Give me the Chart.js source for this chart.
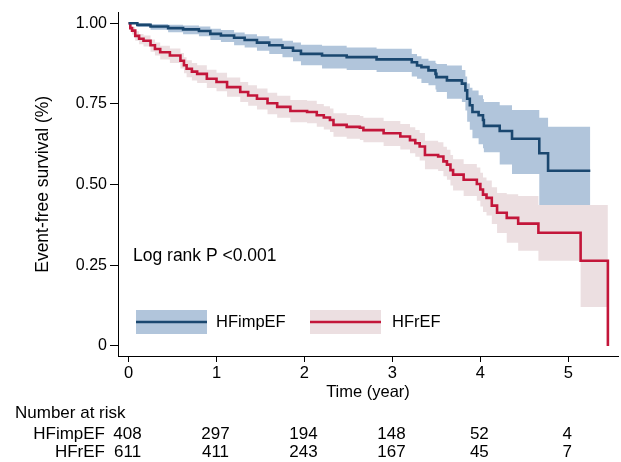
<!DOCTYPE html>
<html>
<head>
<meta charset="utf-8">
<script src="https://cdn.jsdelivr.net/npm/chart.js@4.4.1/dist/chart.umd.min.js"></script>
<style>
  html, body { margin: 0; padding: 0; background: #fff; }
  #wrap { width: 621px; height: 462px; }
</style>
</head>
<body>
<div id="wrap"><canvas id="km" width="621" height="462"></canvas></div>
<script>
// HFimpEF: time (years), survival, lower / upper CI
const impTime = [0, 0.1, 0.25, 0.45, 0.62, 0.8, 0.93, 1.05, 1.2, 1.32, 1.46, 1.6, 1.75, 1.87, 1.96, 2.2, 2.48, 2.82, 3.22, 3.28, 3.33, 3.41, 3.49, 3.5, 3.62, 3.79, 3.83, 3.85, 3.88, 3.91, 3.98, 4.03, 4.04, 4.22, 4.36, 4.67, 4.77, 5.25];
const impSurv = [1, 0.995, 0.99, 0.985, 0.981, 0.976, 0.967, 0.962, 0.955, 0.948, 0.94, 0.932, 0.924, 0.915, 0.905, 0.9, 0.895, 0.888, 0.879, 0.869, 0.864, 0.854, 0.843, 0.833, 0.823, 0.813, 0.792, 0.766, 0.746, 0.725, 0.715, 0.7, 0.682, 0.666, 0.642, 0.597, 0.543, 0.543];
const impLo = [1, 0.988, 0.98, 0.972, 0.966, 0.96, 0.948, 0.942, 0.932, 0.925, 0.915, 0.905, 0.895, 0.882, 0.87, 0.86, 0.855, 0.849, 0.835, 0.828, 0.815, 0.808, 0.795, 0.787, 0.766, 0.756, 0.73, 0.695, 0.67, 0.644, 0.625, 0.613, 0.6, 0.562, 0.533, 0.437, 0.437, 0.437];
const impHi = [1, 1, 0.998, 0.995, 0.993, 0.99, 0.983, 0.979, 0.971, 0.966, 0.96, 0.953, 0.946, 0.94, 0.933, 0.93, 0.925, 0.921, 0.905, 0.898, 0.89, 0.884, 0.877, 0.874, 0.869, 0.855, 0.835, 0.813, 0.8, 0.792, 0.777, 0.765, 0.756, 0.746, 0.731, 0.707, 0.679, 0.679];

// HFrEF
const refTime = [0, 0.02, 0.04, 0.076, 0.12, 0.17, 0.25, 0.3, 0.36, 0.47, 0.59, 0.63, 0.66, 0.72, 0.78, 0.89, 1.0, 1.12, 1.27, 1.36, 1.46, 1.58, 1.69, 1.84, 2.03, 2.14, 2.22, 2.29, 2.33, 2.48, 2.63, 2.67, 2.9, 3.09, 3.2, 3.26, 3.31, 3.37, 3.52, 3.58, 3.62, 3.66, 3.69, 3.81, 3.96, 4.0, 4.03, 4.07, 4.13, 4.19, 4.3, 4.43, 4.66, 5.14, 5.45];
const refSurv = [1, 0.985, 0.977, 0.961, 0.952, 0.946, 0.932, 0.92, 0.91, 0.9, 0.884, 0.87, 0.859, 0.85, 0.843, 0.828, 0.818, 0.802, 0.787, 0.776, 0.766, 0.752, 0.741, 0.728, 0.725, 0.715, 0.708, 0.7, 0.685, 0.679, 0.676, 0.669, 0.659, 0.649, 0.638, 0.628, 0.618, 0.592, 0.587, 0.572, 0.562, 0.545, 0.531, 0.515, 0.502, 0.485, 0.469, 0.459, 0.435, 0.413, 0.397, 0.379, 0.351, 0.264, 0];
const refLo = [1, 0.978, 0.965, 0.946, 0.935, 0.928, 0.912, 0.9, 0.888, 0.877, 0.86, 0.845, 0.833, 0.823, 0.815, 0.799, 0.789, 0.772, 0.756, 0.744, 0.733, 0.718, 0.707, 0.693, 0.69, 0.679, 0.671, 0.663, 0.648, 0.642, 0.638, 0.631, 0.62, 0.609, 0.597, 0.586, 0.575, 0.548, 0.542, 0.526, 0.515, 0.497, 0.482, 0.465, 0.45, 0.432, 0.415, 0.404, 0.378, 0.35, 0.32, 0.295, 0.264, 0.121, 0.121];
const refHi = [1, 0.99, 0.988, 0.975, 0.967, 0.962, 0.95, 0.94, 0.93, 0.922, 0.908, 0.895, 0.885, 0.877, 0.87, 0.856, 0.847, 0.832, 0.818, 0.808, 0.798, 0.785, 0.775, 0.762, 0.76, 0.75, 0.743, 0.736, 0.721, 0.716, 0.713, 0.707, 0.697, 0.688, 0.678, 0.669, 0.66, 0.636, 0.631, 0.617, 0.608, 0.592, 0.579, 0.564, 0.553, 0.537, 0.522, 0.513, 0.492, 0.474, 0.47, 0.465, 0.437, 0.437, 0.437];

const groups = ["HFimpEF", "HFrEF"];
const xTicks = [0, 1, 2, 3, 4, 5];
const yTicks = [0, 0.25, 0.5, 0.75, 1];
const riskImp = [408, 297, 194, 148, 52, 4];
const riskRef = [611, 411, 243, 167, 45, 7];

const BLUE = "#1a476f", BLUE_BAND = "#b1c5db";
const RED = "#c3163a", RED_BAND = "#ecdfe1";
const FONT = "'Liberation Sans', Arial, sans-serif";

function pts(t, v) {
  return t.map((x, i) => ({ x: x, y: v[i] }));
}

function lineSet(label, t, v, color) {
  return { label, data: pts(t, v), borderColor: color, borderWidth: 2.6, stepped: "before", pointRadius: 0, fill: false };
}

function bandSet(label, t, v, color, fill) {
  return { label, data: pts(t, v), borderColor: "rgba(0,0,0,0)", borderWidth: 1, backgroundColor: color, stepped: "before", pointRadius: 0, fill: fill };
}

// legend, p-value and risk table drawn on top of the chart
const extras = {
  id: "extras",
  afterDraw(chart) {
    const c = chart.ctx;
    const xs = chart.scales.x;
    c.save();
    c.fillStyle = "#000";
    c.textBaseline = "alphabetic";

    c.font = "17.5px " + FONT;
    c.textAlign = "left";
    c.fillText("Log rank P <0.001", 133, 261);

    // legend keys
    const keys = [[136, BLUE_BAND, BLUE, 216], [310, RED_BAND, RED, 392]];
    keys.forEach((k, i) => {
      c.fillStyle = k[1];
      c.fillRect(k[0], 310, 71, 24);
      c.strokeStyle = k[2];
      c.lineWidth = 2.6;
      c.beginPath();
      c.moveTo(k[0], 322);
      c.lineTo(k[0] + 71, 322);
      c.stroke();
      c.fillStyle = "#000";
      c.font = "16.5px " + FONT;
      c.fillText(groups[i], k[3], 327);
    });

    // number at risk
    c.font = "17px " + FONT;
    c.textAlign = "left";
    c.fillText("Number at risk", 15, 418);
    c.textAlign = "right";
    c.fillText(groups[0], 105, 438.5);
    c.fillText(groups[1], 105, 457);
    c.textAlign = "center";
    xTicks.forEach((t, i) => {
      const px = xs.getPixelForValue(t);
      c.fillText(String(riskImp[i]), px - 1, 438.5);
      c.fillText(String(riskRef[i]), px - 1, 457);
    });
    c.restore();
  }
};

Chart.defaults.font.family = FONT;
Chart.defaults.color = "#000";

new Chart(document.getElementById("km"), {
  type: "line",
  data: {
    datasets: [
      lineSet(groups[0], impTime, impSurv, BLUE),
      lineSet(groups[1], refTime, refSurv, RED),
      bandSet("impLo", impTime, impLo, BLUE_BAND, false),
      bandSet("impHi", impTime, impHi, BLUE_BAND, 2),
      bandSet("refLo", refTime, refLo, RED_BAND, false),
      bandSet("refHi", refTime, refHi, RED_BAND, 4)
    ]
  },
  options: {
    responsive: false,
    animation: false,
    layout: { padding: { top: 10, right: 3, left: 0, bottom: 0 } },
    plugins: { legend: { display: false }, tooltip: { enabled: false } },
    scales: {
      x: {
        type: "linear",
        min: -0.12,
        max: 5.565,
        afterBuildTicks: (s) => { s.ticks = xTicks.map((v) => ({ value: v })); },
        afterFit: (s) => { s.height = 106; },
        ticks: { font: { size: 16.5 }, padding: 2, maxRotation: 0, autoSkip: false },
        grid: { drawOnChartArea: false, tickLength: 6, color: "#000" },
        border: { color: "#000", width: 1 },
        title: { display: true, text: "Time (year)", font: { size: 16.5 }, padding: { top: 0, bottom: 60 } }
      },
      y: {
        min: -0.031,
        max: 1.033,
        afterBuildTicks: (s) => { s.ticks = yTicks.map((v) => ({ value: v })); },
        afterFit: (s) => { s.width = 118; },
        ticks: { font: { size: 16 }, padding: 3, callback: (v) => (v === 0 ? "0" : v.toFixed(2)) },
        grid: { drawOnChartArea: false, tickLength: 8, color: "#000" },
        border: { color: "#000", width: 1 },
        title: { display: true, text: "Event-free survival (%)", font: { size: 17.5 }, padding: { top: 33, bottom: 0 } }
      }
    }
  },
  plugins: [extras]
});
</script>
</body>
</html>
